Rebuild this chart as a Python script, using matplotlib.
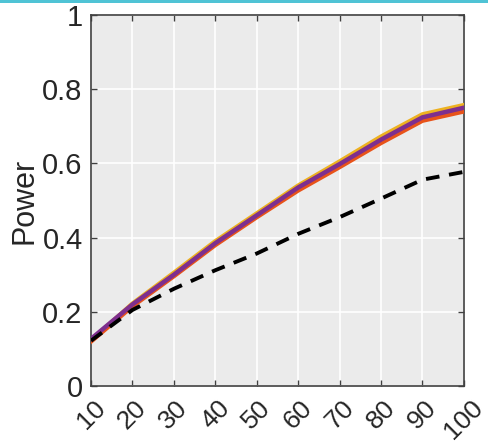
import matplotlib
matplotlib.use("Agg")
import matplotlib.pyplot as plt
import numpy as np

# sample sizes and estimated power for each method
n_vals = [10, 20, 30, 40, 50, 60, 70, 80, 90, 100]
power_yellow = [0.122, 0.222, 0.305, 0.390, 0.465, 0.540, 0.605, 0.672, 0.732, 0.757]
power_red = [0.120, 0.215, 0.296, 0.380, 0.455, 0.527, 0.590, 0.655, 0.715, 0.740]
power_purple = [0.127, 0.220, 0.300, 0.385, 0.460, 0.535, 0.598, 0.664, 0.724, 0.750]
power_ref = [0.122, 0.205, 0.262, 0.312, 0.357, 0.410, 0.455, 0.505, 0.556, 0.577]
y_ticks = [0, 0.2, 0.4, 0.6, 0.8, 1]
y_labels = ["0", "0.2", "0.4", "0.6", "0.8", "1"]

plt.rcParams['font.family'] = ['Liberation Sans', 'DejaVu Sans']

fig = plt.figure(figsize=(4.88, 4.46), dpi=100)
ax = fig.add_axes([0.1865, 0.1345, 0.764, 0.832])
ax.set_facecolor('#ebebeb')

ax.plot(n_vals, power_yellow, color='#EDB120', lw=3.2, zorder=3)
ax.plot(n_vals, power_red, color='#E8531A', lw=3.2, zorder=3)
ax.plot(n_vals, power_purple, color='#7E2F8E', lw=3.2, zorder=4)
ax.plot(n_vals, power_ref, color='black', lw=2.8, ls=(0, (3.5, 2.5)), zorder=5)

ax.set_xlim(10, 100)
ax.set_ylim(0, 1)
ax.set_xticks(n_vals)
ax.set_xticklabels([str(v) for v in n_vals], rotation=45, ha='center',
                   va='top', fontsize=19, color='#262626')
ax.set_yticks(y_ticks)
ax.set_yticklabels(y_labels, fontsize=21, color='#262626')
ax.set_ylabel('Power', fontsize=22, color='#262626', labelpad=2)

ax.grid(True, color='white', lw=1.2)
ax.set_axisbelow(True)
ax.tick_params(direction='in', length=4, width=1, color='#404040',
               top=True, right=True)
ax.tick_params(axis='y', pad=6)
ax.tick_params(axis='x', pad=7)
for sp in ax.spines.values():
    sp.set_color('#404040')
    sp.set_linewidth(1.2)

# thin accent strip along the top edge
fig.add_artist(plt.Rectangle((0, 0.993), 1, 0.007, transform=fig.transFigure,
                             color='#4fc3d5', lw=0))

fig.savefig('out.png', dpi=100)
